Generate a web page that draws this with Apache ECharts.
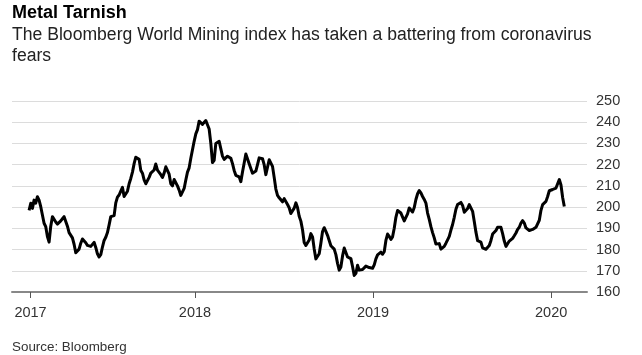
<!DOCTYPE html>
<html>
<head>
<meta charset="utf-8">
<script src="https://cdn.jsdelivr.net/npm/echarts@6/dist/echarts.min.js"></script>
<style>
html,body{margin:0;padding:0;background:#fff;}
#chart{width:642px;height:355px;}
</style>
</head>
<body>
<div id="chart"></div>
<script>
// Bloomberg World Mining index, sampled evenly from startDate to endDate
const startDate = [2017, 0, 26];
const endDate = [2020, 0, 28];
const values2017 = [
198.5, 201.8, 199.4, 203.3, 201.9, 204.9, 203.3, 200.2, 196.3, 192.4,
190.8, 186.1, 183.5, 191, 195.5, 196.0, 193, 192, 191.8, 193.5,
194.5, 195.5, 195, 191, 188, 187.2, 185.5, 182.5, 178.5, 178.2,
180.2, 183, 185, 184.3, 183.2, 182, 182.2, 181.5, 182, 183.4,
181, 178, 176.5, 177.6, 181.2, 184.3, 185.8, 188, 191.6, 195.5,
196.2, 196, 202, 204.7, 205.7, 207.5, 209.3, 205, 204.5, 207.5,
211, 213.5, 216.5, 220.5, 223.5, 223.8, 222.5, 217.3, 216, 212.8,
211, 211.5, 214, 216, 216.7, 217.5, 220.3, 217.4, 216.7, 215.3,
214, 216, 219, 218.5, 215.5, 211, 210, 213, 212.5, 210,
208, 205.5, 205.5, 208.8, 212.8, 216.5, 218.5, 223, 227, 231
];
const values2018 = [
234.5, 236.5, 240.5, 239.8, 239, 239.3, 240.8, 240.5, 236.8, 230,
221, 222, 230, 229.5, 231, 230.5, 224, 222.5, 222.5, 224,
224, 223, 220.5, 217.3, 215, 215.5, 214.3, 212, 216.5, 220.8,
225, 225.5, 220.4, 218.2, 216, 216.5, 217, 220, 223.2, 223,
222.8, 220, 215.3, 216, 222.3, 223, 219.2, 214, 208.5, 205.5,
204.4, 203.6, 202.5, 204, 204, 201.2, 199.7, 197, 197.3, 199.5,
202, 199.8, 195.7, 193.4, 189.3, 183.3, 181.9, 182.4, 184.5, 187.5,
186, 180.3, 175.6, 175.8, 178, 183, 188.5, 190.3, 188.6, 186.7,
184.3, 181.8, 181.8, 180.2, 177.6, 173.5, 170.3, 171.8, 177, 180.7,
180.4, 176.5, 175.6, 175.7, 172, 167.8, 168.8, 172.6, 170.3, 170.7,
170.6, 171.5, 172.2, 171.6, 171.5, 172, 171.2
];
const values2019 = [
172.8, 175.6, 177.5, 177.7, 178.8, 177.8, 179, 184.3, 187.3, 186.2,
184.8, 186, 190, 195.2, 198.4, 197.6, 197.2, 197, 193.5, 193.8,
196.8, 199.6, 199.6, 197.7, 199.8, 203.6, 206.3, 207.8, 206.7, 205,
203.6, 201.9, 197.2, 194.2, 190.8, 188, 185.5, 182.6, 182.8, 182.8,
180.2, 179.9, 181.5, 183, 184.6, 186.2, 189.2, 191.8, 195.2, 199,
201.2, 201.8, 202.2, 200.8, 197.6, 197.2, 199.3, 201.2, 201, 198,
193.2, 188.2, 184.2, 184.3, 183.5, 180.8, 180.2, 180.1, 180.3, 181.9,
184.3, 187.3, 187.5, 189, 190.5, 190.8, 190.5, 187.5, 184, 181.5,
181.8, 184, 184.8, 185.3, 186.5, 187.8, 189.5, 190.5, 192.5, 193.6,
192.5, 190.2, 189.6, 189, 189.3, 189.5, 189.6, 190.5, 191.2, 193.8,
198.5, 201.2, 201.8, 202.7, 205, 207.7, 207.6, 208.3, 208.5, 209,
211, 213, 210.4, 204.5, 200.3
];
const yTicks = [160, 170, 180, 190, 200, 210, 220, 230, 240, 250];
const xTickDates = [[2017, 0, 29], [2018, 0, 1], [2019, 0, 1], [2020, 0, 1]];
const axisRange = [[2016, 11, 22], [2020, 2, 14, 12]];

const titleText = 'Metal Tarnish';
const subtitleText = 'The Bloomberg World Mining index has taken a battering from coronavirus\nfears';
const sourceText = 'Source: Bloomberg';

function ts(a) { return new Date(a[0], a[1], a[2], a[3] || 0).getTime(); }

const allValues = values2017.concat(values2018, values2019);
const t0 = ts(startDate), t1 = ts(endDate);
const n = allValues.length;
const seriesData = allValues.map((v, i) => [t0 + (t1 - t0) * i / (n - 1), v]);
const tickTs = xTickDates.map(ts);

const FONT = '"Liberation Sans", Arial, sans-serif';
const chart = echarts.init(document.getElementById('chart'), null, {renderer: 'canvas'});
chart.setOption({
  animation: false,
  backgroundColor: '#ffffff',
  textStyle: {fontFamily: FONT},
  title: [
    {text: titleText, left: 12, top: 3, padding: 0,
     textStyle: {fontSize: 18, fontWeight: 'bold', color: '#000', fontFamily: FONT, lineHeight: 20}},
    {text: subtitleText, left: 12, top: 24, padding: 0,
     textStyle: {fontSize: 17.6, fontWeight: 'normal', color: '#222', fontFamily: FONT, lineHeight: 21.5}},
    {text: sourceText, left: 12, top: 339, padding: 0,
     textStyle: {fontSize: 13.4, fontWeight: 'normal', color: '#333', fontFamily: FONT, lineHeight: 16}}
  ],
  grid: {left: 12, right: 55, top: 101, bottom: 63, containLabel: false},
  xAxis: {
    type: 'value',
    min: ts(axisRange[0]),
    max: ts(axisRange[1]),
    axisLine: {show: true, lineStyle: {color: '#888', width: 2}},
    axisTick: {show: true, length: 6, lineStyle: {color: '#555', width: 1}, customValues: tickTs},
    axisLabel: {
      customValues: tickTs,
      formatter: v => String(new Date(v).getFullYear()),
      fontSize: 14.5, color: '#333', margin: 13, fontFamily: FONT
    },
    splitLine: {show: false}
  },
  yAxis: {
    type: 'value',
    position: 'right',
    min: yTicks[0],
    max: yTicks[yTicks.length - 1],
    interval: 10,
    axisLine: {show: false},
    axisTick: {show: false},
    axisLabel: {fontSize: 14.5, color: '#333', margin: 9, fontFamily: FONT},
    splitLine: {show: true, lineStyle: {color: '#dcdcdc', width: 1}}
  },
  series: [{
    type: 'line',
    data: seriesData,
    showSymbol: false,
    symbol: 'none',
    lineStyle: {color: '#000', width: 3, join: 'round'},
    z: 5
  }]
});
</script>
</body>
</html>
